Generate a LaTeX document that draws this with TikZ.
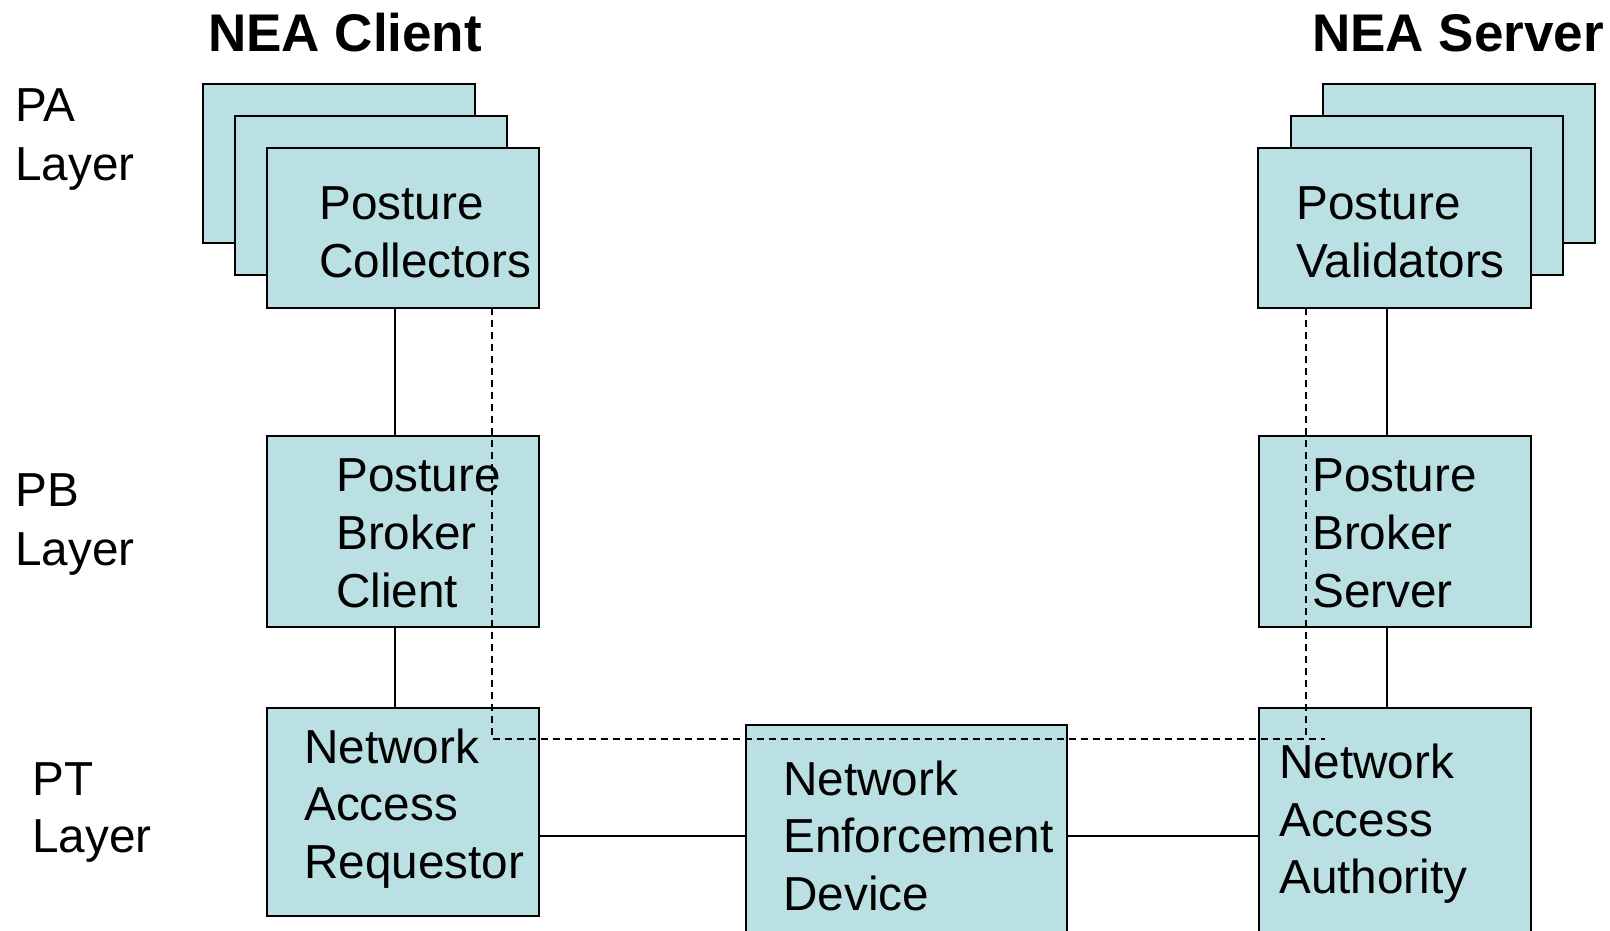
\documentclass[tikz,border=0pt]{standalone}
\usepackage{fontspec}
\setmainfont{Liberation Sans}
\begin{document}
\begin{tikzpicture}[x=1pt,y=-1pt,
  box/.style={draw=black,line width=2pt,fill=boxfill,rectangle,anchor=north west,inner sep=0pt,outer sep=0pt},
  lbl/.style={anchor=base west,inner sep=0pt,font=\fontsize{47.7}{56}\selectfont},
  ttl/.style={anchor=base west,inner sep=0pt,font=\fontsize{53}{60}\selectfont\bfseries},
  conn/.style={draw=black,line width=1.5pt},
  dashline/.style={draw=black,line width=1.5pt,dash pattern=on 7pt off 5pt}]
\definecolor{boxfill}{HTML}{BBE0E3}
\useasboundingbox (0,0) rectangle (1610,930);
\clip (0,0) rectangle (1610,930);
% titles
\node[ttl] (tc) at (208,51) {NEA Client};
\node[ttl] (ts) at (1312,51) {NEA Server};
% layer labels
\node[lbl] (pa1) at (15,121) {PA};
\node[lbl] (pa2) at (15,180) {Layer};
\node[lbl] (pb1) at (15,506) {PB};
\node[lbl] (pb2) at (15,565) {Layer};
\node[lbl] (pt1) at (32,795) {PT};
\node[lbl] (pt2) at (32,852) {Layer};
% posture collectors stack
\node[box,minimum width=272pt,minimum height=159pt] (pc3) at (203,84) {};
\node[box,minimum width=272pt,minimum height=159pt] (pc2) at (235,116) {};
\node[box,minimum width=272pt,minimum height=160pt] (pc) at (267,148) {};
% posture validators stack
\node[box,minimum width=272pt,minimum height=159pt] (pv3) at (1323,84) {};
\node[box,minimum width=272pt,minimum height=159pt] (pv2) at (1291,116) {};
\node[box,minimum width=273pt,minimum height=160pt] (pv) at (1258,148) {};
% broker boxes
\node[box,minimum width=272pt,minimum height=191pt] (pbc) at (267,436) {};
\node[box,minimum width=272pt,minimum height=191pt] (pbs) at (1259,436) {};
% PT layer
\node[box,minimum width=272pt,minimum height=208pt] (nar) at (267,708) {};
\node[box,minimum width=321pt,minimum height=240pt] (ned) at (746,725) {};
\node[box,minimum width=272pt,minimum height=260pt] (naa) at (1259,708) {};
% box texts
\node[lbl] (pct1) at (319,219) {Posture};
\node[lbl] (pct2) at (319,277) {Collectors};
\node[lbl] (pvt1) at (1296,219) {Posture};
\node[lbl] (pvt2) at (1296,277) {Validators};
\node[lbl] (pbct1) at (336,491) {Posture};
\node[lbl] (pbct2) at (336,549) {Broker};
\node[lbl] (pbct3) at (336,607) {Client};
\node[lbl] (pbst1) at (1312,491) {Posture};
\node[lbl] (pbst2) at (1312,549) {Broker};
\node[lbl] (pbst3) at (1312,607) {Server};
\node[lbl] (nart1) at (304,763) {Network};
\node[lbl] (nart2) at (304,820) {Access};
\node[lbl] (nart3) at (304,878) {Requestor};
\node[lbl] (nedt1) at (783,795) {Network};
\node[lbl] (nedt2) at (783,852) {Enforcement};
\node[lbl] (nedt3) at (783,910) {Device};
\node[lbl] (naat1) at (1279,778) {Network};
\node[lbl] (naat2) at (1279,836) {Access};
\node[lbl] (naat3) at (1279,893) {Authority};
% connector guide coordinates
\coordinate (xl) at (395,0);
\coordinate (xr) at (1387,0);
\coordinate (yh) at (0,836);
\coordinate (dl) at (492,0);
\coordinate (dr) at (1306,0);
\coordinate (dend) at (1325,739);
% solid connectors
\draw[conn] (pc.south -| xl) -- (pbc.north -| xl);
\draw[conn] (pbc.south -| xl) -- (nar.north -| xl);
\draw[conn] (pv.south -| xr) -- (pbs.north -| xr);
\draw[conn] (pbs.south -| xr) -- (naa.north -| xr);
\draw[conn] (nar.east |- yh) -- (ned.west |- yh);
\draw[conn] (ned.east |- yh) -- (naa.west |- yh);
% dashed connectors
\draw[dashline] (pc.south -| dl) |- (dend);
\draw[dashline] (pv.south -| dr) -- (dr |- dend);
\end{tikzpicture}
\end{document}
